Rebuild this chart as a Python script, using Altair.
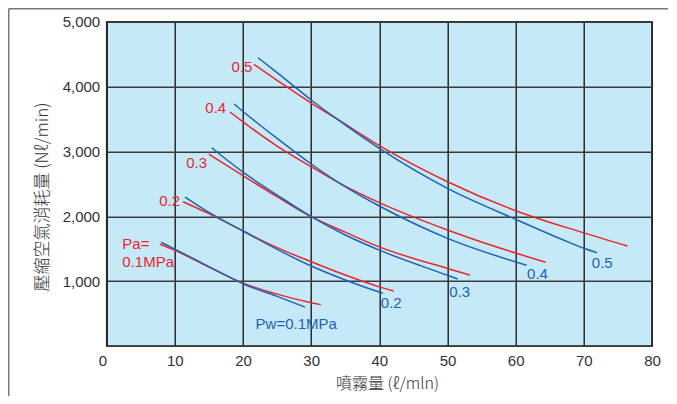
import altair as alt
import pandas as pd

# ---- Pa (air pressure, red) curves ----
pa01_x = [7.8, 10, 15, 20, 25, 30, 31.4]
pa01_y = [1568, 1475, 1215, 970, 800, 668, 638]
pa02_x = [11.2, 15, 20, 25, 30, 35, 40, 42.1]
pa02_y = [2225, 2040, 1773, 1516, 1300, 1095, 912, 848]
pa03_x = [15.0, 20, 25, 30, 35, 40, 50, 53.3]
pa03_y = [2956, 2626, 2302, 1994, 1755, 1528, 1195, 1094]
pa04_x = [18.1, 20, 25, 30, 34.2, 40, 50, 53.8, 64.4]
pa04_y = [3608, 3455, 3083, 2764, 2508, 2210, 1788, 1645, 1291]
pa05_x = [21.6, 25, 30, 33.5, 40, 50, 60, 69.4, 76.4]
pa05_y = [4343, 4096, 3745, 3520, 3089, 2533, 2086, 1763, 1542]

# ---- Pw (water pressure, blue) curves ----
pw01_x = [8.0, 10, 15, 20, 25, 29.1]
pw01_y = [1599, 1493, 1225, 960, 765, 600]
pw02_x = [11.5, 15, 20, 25, 30, 35, 40.5]
pw02_y = [2297, 2060, 1773, 1490, 1233, 1018, 812]
pw03_x = [15.4, 20, 25, 30, 35, 40, 50, 51.5]
pw03_y = [3057, 2680, 2328, 1994, 1712, 1478, 1090, 1032]
pw04_x = [18.7, 20, 25, 30, 34.2, 40, 50, 61.6]
pw04_y = [3731, 3616, 3200, 2806, 2508, 2158, 1660, 1244]
pw05_x = [22.2, 25, 30, 33.5, 40, 50, 60, 66.75, 70, 71.9]
pw05_y = [4445, 4214, 3793, 3520, 3048, 2431, 1953, 1645, 1506, 1439]

# ---- curve labels ----
red_lab_text = ["0.5", "0.4", "0.3", "0.2"]
red_lab_x = [19.85, 16.0, 13.2, 9.24]
red_lab_y = [4302, 3665, 2829, 2239]
pa_lab_text = ["Pa=", "0.1MPa"]
pa_lab_x = [2.29, 2.29]
pa_lab_y = [1576, 1295]
blue_lab_text = ["0.2", "0.3", "0.4", "0.5", "Pw=0.1MPa"]
blue_lab_x = [41.75, 51.8, 63.2, 72.7, 27.8]
blue_lab_y = [660, 837, 1113, 1287, 342]

x_ticks = [0, 10, 20, 30, 40, 50, 60, 70, 80]
y_ticks = [0, 500, 1000, 1500, 2000, 2500, 3000, 3500, 4000, 4500, 5000]

RED = "#e8262c"
BLUE = "#1f62b3"
NUM_FONT = "Liberation Sans Narrow, Arial Narrow, Liberation Sans"
CJK_FONT = "Noto Sans CJK TC"

rows = []
for kind, lvl, xs, ys in [
    ("Pa", "0.1", pa01_x, pa01_y), ("Pa", "0.2", pa02_x, pa02_y),
    ("Pa", "0.3", pa03_x, pa03_y), ("Pa", "0.4", pa04_x, pa04_y),
    ("Pa", "0.5", pa05_x, pa05_y),
    ("Pw", "0.1", pw01_x, pw01_y), ("Pw", "0.2", pw02_x, pw02_y),
    ("Pw", "0.3", pw03_x, pw03_y), ("Pw", "0.4", pw04_x, pw04_y),
    ("Pw", "0.5", pw05_x, pw05_y),
]:
    for i, (xv, yv) in enumerate(zip(xs, ys)):
        rows.append({"kind": kind, "series": kind + lvl, "x": xv, "y": yv, "i": i})
df = pd.DataFrame(rows)

red_df = pd.DataFrame({"x": red_lab_x, "y": red_lab_y, "t": red_lab_text})
pa_df = pd.DataFrame({"x": pa_lab_x, "y": pa_lab_y, "t": pa_lab_text})
blue_df = pd.DataFrame({"x": blue_lab_x, "y": blue_lab_y, "t": blue_lab_text})

xscale = alt.Scale(domain=[0, 80], nice=False, zero=False)
yscale = alt.Scale(domain=[0, 5000], nice=False)

x_axis = alt.Axis(
    values=x_ticks, grid=True, gridColor="#1e1e1e", gridWidth=1.4,
    ticks=False, domain=False, labelFlush=False,
    labelFont=NUM_FONT, labelFontSize=15, labelColor="#333333", labelPadding=7,
    labelAlign={"condition": {"test": "datum.value === 0", "value": "right"}, "value": "center"},
    title="噴霧量 (ℓ/mln)", titleFont=CJK_FONT, titleFontSize=16,
    titleFontWeight=300, titleColor="#333333",
    titleX=280.3, titleY=37.7, titleBaseline="middle", titleAlign="center",
)
y_axis = alt.Axis(
    values=y_ticks, grid=True, gridColor="#3a3a3a", gridWidth=1.4,
    ticks=False, domain=False, labelFlush=False,
    labelExpr="datum.value % 1000 === 0 && datum.value > 0 ? format(datum.value, ',') : ''",
    labelFont=NUM_FONT, labelFontSize=15, labelColor="#333333", labelPadding=7,
    title="壓縮空氣消耗量 (Nℓ/min)", titleFont=CJK_FONT, titleFontSize=17,
    titleFontWeight=300, titleColor="#333333",
    titleX=-63.7, titleY=174.8, titleAngle=270, titleBaseline="middle", titleAlign="center",
)

lines = alt.Chart(df).mark_line(strokeWidth=1.5, interpolate="monotone").encode(
    x=alt.X("x:Q", scale=xscale, axis=x_axis),
    y=alt.Y("y:Q", scale=yscale, axis=y_axis),
    color=alt.Color("kind:N", scale=alt.Scale(domain=["Pa", "Pw"], range=[RED, BLUE]), legend=None),
    detail="series:N",
    order="i:Q",
)

red_txt = alt.Chart(red_df).mark_text(
    font=NUM_FONT, fontSize=15, color=RED, align="center", baseline="middle"
).encode(x=alt.X("x:Q", scale=xscale), y=alt.Y("y:Q", scale=yscale), text="t:N")

pa_txt = alt.Chart(pa_df).mark_text(
    font=NUM_FONT, fontSize=15, color=RED, align="left", baseline="middle"
).encode(x=alt.X("x:Q", scale=xscale), y=alt.Y("y:Q", scale=yscale), text="t:N")

blue_txt = alt.Chart(blue_df).mark_text(
    font=NUM_FONT, fontSize=15, color=BLUE, align="center", baseline="middle"
).encode(x=alt.X("x:Q", scale=xscale), y=alt.Y("y:Q", scale=yscale), text="t:N")

one = pd.DataFrame({"a": [0]})
frame_left = alt.Chart(one).mark_rule(color="#777777", strokeWidth=1.5).encode(
    x=alt.value(-98.0), y=alt.value(-13.0), y2=alt.value(374.3))
frame_top = alt.Chart(one).mark_rule(color="#777777", strokeWidth=1.5).encode(
    x=alt.value(-98.0), x2=alt.value(561.3), y=alt.value(-13.0))

chart = alt.layer(
    lines, red_txt, pa_txt, blue_txt, frame_left, frame_top
).properties(
    width=545.3, height=324.3,
    padding={"left": 98.7, "top": 13.7, "right": 16, "bottom": 50},
    autosize=alt.AutoSizeParams(type="none"),
    background="white",
).configure_view(
    fill="#c6e9f8", stroke="#333333", strokeWidth=1.6
)

chart.save("out.html", embed_options={"renderer": "svg", "actions": False})
